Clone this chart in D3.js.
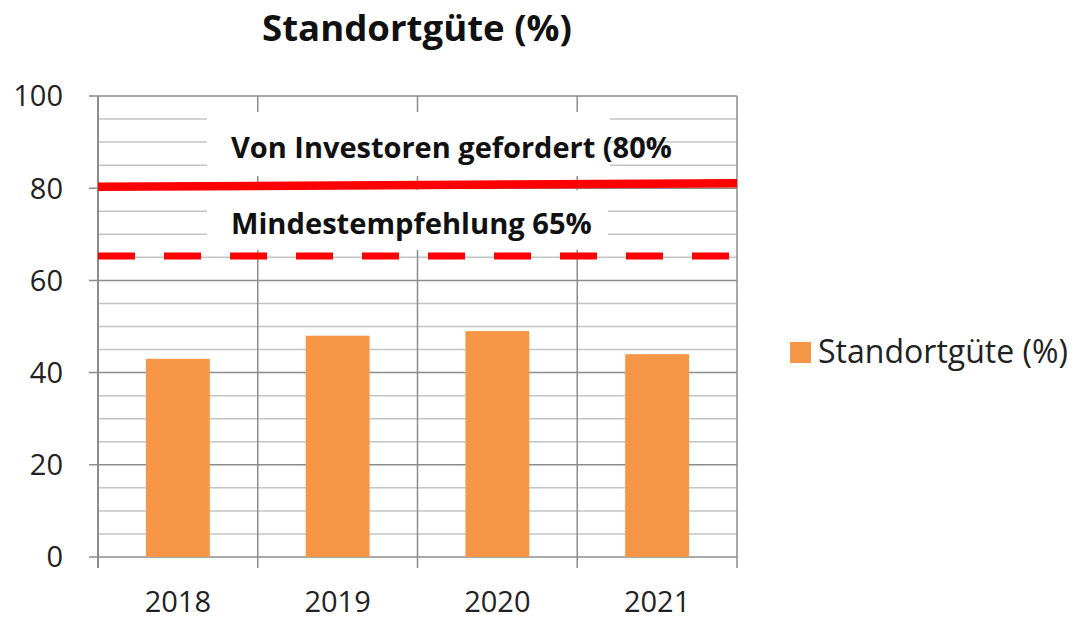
<!DOCTYPE html>
<html>
<head>
<meta charset="utf-8">
<script src="https://cdn.jsdelivr.net/npm/d3@7"></script>
<style>
  body { margin: 0; background: #fff; }
  svg { font-family: "Open Sans", Lato, sans-serif; }
</style>
</head>
<body>
<div id="chart"></div>
<script>
// data
var years = ["2018", "2019", "2020", "2021"];
var values = [43, 48, 49, 44];
var yTicks = [0, 20, 40, 60, 80, 100];
var minorTicks = [5, 10, 15, 25, 30, 35, 45, 50, 55, 65, 70, 75, 85, 90, 95];
// reference lines, x in category units (0 = left edge, 4 = right edge)
var requiredLine = [{x: 0, v: 80.3}, {x: 4, v: 81.1}];
var minimumLine = [{x: 0, v: 65.3}, {x: 4, v: 65.3}];
var seriesName = "Standortgüte (%)";
var labelRequired = "Von Investoren gefordert (80%";
var labelMinimum = "Mindestempfehlung 65%";

var W = 1082, H = 621;
var plotL = 98, plotR = 737, plotT = 96, plotB = 557;

var svg = d3.select("#chart").append("svg")
    .attr("width", W)
    .attr("height", H);

var x = d3.scaleBand().domain(years).range([plotL, plotR]);
var xl = d3.scaleLinear().domain([0, 4]).range([plotL, plotR]);
var y = d3.scaleLinear().domain([0, 100]).range([plotB, plotT]);

// shrink or grow a text so it spans the width seen in the reference
function fit(sel, width) {
    var fs = +sel.attr("font-size");
    var w = sel.node().getComputedTextLength();
    sel.attr("font-size", (fs * width / w).toFixed(2));
    return sel;
}

// minor gridlines
svg.append("g").selectAll("line")
    .data(minorTicks).enter().append("line")
    .attr("x1", plotL).attr("x2", plotR)
    .attr("y1", function(d){ return y(d); })
    .attr("y2", function(d){ return y(d); })
    .attr("stroke", "#c4c4c4")
    .attr("stroke-width", 1.5);

// major gridlines with ticks
svg.append("g").selectAll("line")
    .data(yTicks).enter().append("line")
    .attr("x1", plotL - 9).attr("x2", plotR)
    .attr("y1", function(d){ return y(d); })
    .attr("y2", function(d){ return y(d); })
    .attr("stroke", "#8c8c8c")
    .attr("stroke-width", 1.5);

// vertical gridlines at category boundaries
svg.append("g").selectAll("line")
    .data(d3.range(0, 5)).enter().append("line")
    .attr("x1", function(d){ return xl(d); })
    .attr("x2", function(d){ return xl(d); })
    .attr("y1", plotT)
    .attr("y2", plotB + 11)
    .attr("stroke", "#8c8c8c")
    .attr("stroke-width", function(d){ return d === 0 ? 2 : 1.5; });

// white label boxes
svg.append("rect")
    .attr("x", 207).attr("y", 112).attr("width", 403).attr("height", 64)
    .attr("fill", "#fff");
svg.append("rect")
    .attr("x", 207).attr("y", 190).attr("width", 401).attr("height", 60)
    .attr("fill", "#fff");

// bars
svg.append("g").selectAll("rect")
    .data(values).enter().append("rect")
    .attr("x", function(d, i){ return x(years[i]) + x.bandwidth() * 0.3; })
    .attr("width", x.bandwidth() * 0.4)
    .attr("y", function(d){ return y(d); })
    .attr("height", function(d){ return y(0) - y(d); })
    .attr("fill", "#f79646");

var line = d3.line()
    .x(function(d){ return xl(d.x); })
    .y(function(d){ return y(d.v); });

svg.append("path")
    .datum(requiredLine)
    .attr("d", line)
    .attr("fill", "none")
    .attr("stroke", "#ff0000")
    .attr("stroke-width", 8.5);

svg.append("path")
    .datum(minimumLine)
    .attr("d", line)
    .attr("fill", "none")
    .attr("stroke", "#ff0000")
    .attr("stroke-width", 7)
    .attr("stroke-dasharray", "37,29");

// label texts
fit(svg.append("text")
    .attr("x", 231).attr("y", 158)
    .attr("font-weight", "bold")
    .attr("font-size", 26)
    .attr("fill", "#111")
    .text(labelRequired), 441);
fit(svg.append("text")
    .attr("x", 231).attr("y", 234)
    .attr("font-weight", "bold")
    .attr("font-size", 26)
    .attr("fill", "#111")
    .text(labelMinimum), 361);

// y tick labels
svg.append("g").selectAll("text")
    .data(yTicks).enter().append("text")
    .attr("x", 63)
    .attr("y", function(d){ return y(d); })
    .attr("dy", "0.36em")
    .attr("text-anchor", "end")
    .attr("font-size", 29)
    .attr("fill", "#222")
    .text(function(d){ return d; });

// x tick labels
svg.append("g").selectAll("text")
    .data(years).enter().append("text")
    .attr("x", function(d){ return x(d) + x.bandwidth() / 2; })
    .attr("y", 612)
    .attr("text-anchor", "middle")
    .attr("font-size", 29)
    .attr("fill", "#222")
    .text(function(d){ return d; });

// title
fit(svg.append("text")
    .attr("x", 417).attr("y", 41)
    .attr("text-anchor", "middle")
    .attr("font-weight", "bold")
    .attr("font-size", 33)
    .attr("fill", "#111")
    .text(seriesName), 310);

// legend
svg.append("rect")
    .attr("x", 790).attr("y", 342).attr("width", 21).attr("height", 21)
    .attr("fill", "#f79646");
fit(svg.append("text")
    .attr("x", 818).attr("y", 363)
    .attr("font-size", 28)
    .attr("fill", "#222")
    .text(seriesName), 250);
</script>
</body>
</html>
